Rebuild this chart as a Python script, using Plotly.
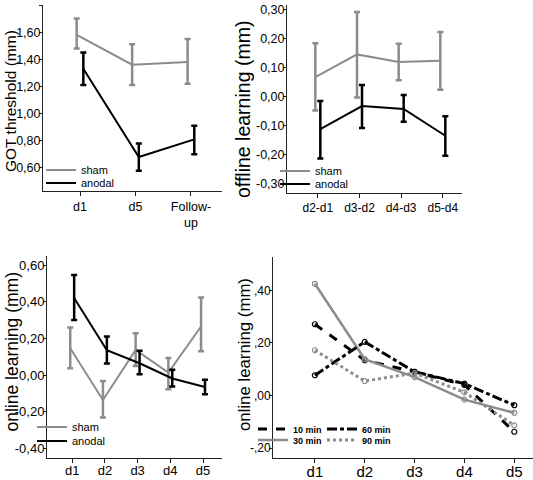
import plotly.graph_objects as go

FONT = "Arial, Liberation Sans, sans-serif"
GRAY = "#8c8c8c"
BLACK = "#000000"

# ---------------- data ----------------
got_days = ["d1", "d5", "Follow-<br>up"]
got_sham = [1.58, 1.36, 1.38]
got_sham_hi = [1.70, 1.51, 1.55]
got_sham_lo = [1.48, 1.21, 1.22]
got_anodal = [1.33, 0.68, 0.81]
got_anodal_hi = [1.45, 0.78, 0.91]
got_anodal_lo = [1.21, 0.58, 0.70]
got_ticks = [0.6, 0.8, 1.0, 1.2, 1.4, 1.6, 1.8]
got_ticktext = ["0,60", "0,80", "1,00", "1,20", "1,40", "1,60", "1,80"]

off_days = ["d2-d1", "d3-d2", "d4-d3", "d5-d4"]
off_sham = [0.068, 0.146, 0.120, 0.124]
off_sham_hi = [0.184, 0.292, 0.183, 0.223]
off_sham_lo = [-0.047, -0.002, 0.057, 0.024]
off_anodal = [-0.111, -0.032, -0.042, -0.134]
off_anodal_hi = [-0.014, 0.041, 0.006, -0.067]
off_anodal_lo = [-0.212, -0.107, -0.086, -0.203]
off_ticks = [-0.3, -0.2, -0.1, 0.0, 0.1, 0.2, 0.3]
off_ticktext = ["-0,30", "-0,20", "-0,10", "0,00", "0,10", "0,20", "0,30"]

on_days = ["d1", "d2", "d3", "d4", "d5"]
on_sham = [0.147, -0.135, 0.138, 0.014, 0.265]
on_sham_hi = [0.260, -0.032, 0.229, 0.093, 0.423]
on_sham_lo = [0.038, -0.230, 0.050, -0.077, 0.130]
on_anodal = [0.420, 0.136, 0.065, -0.018, -0.064]
on_anodal_hi = [0.546, 0.210, 0.133, 0.029, -0.025]
on_anodal_lo = [0.300, 0.064, 0.005, -0.062, -0.104]
on_ticks = [-0.4, -0.2, 0.0, 0.2, 0.4, 0.6]
on_ticktext = ["-0,40", "-0,20", "0,00", "0,20", "0,40", "0,60"]

dur_days = ["d1", "d2", "d3", "d4", "d5"]
dur_10 = [0.271, 0.134, 0.090, 0.040, -0.138]
dur_30 = [0.425, 0.138, 0.070, -0.016, -0.066]
dur_60 = [0.077, 0.204, 0.090, 0.045, -0.037]
dur_90 = [0.172, 0.055, 0.085, 0.012, -0.114]
dur_ticks = [-0.2, 0.0, 0.2, 0.4]
dur_ticktext = ["-,20", ",00", ",20", ",40"]

W, H = 533, 480
fig = go.Figure()
legends = {}

DODGE = 0.06


def leg(x_text, y_mid, size=11, bold=False):
    """One legend per entry; x_text = where the label text should start (px)."""
    key = "legend" if not legends else "legend%d" % (len(legends) + 1)
    legends[key] = dict(x=(x_text - 40) / W, y=1 - y_mid / H, xanchor="left", yanchor="middle",
                        bgcolor="rgba(0,0,0,0)", borderwidth=0,
                        font=dict(family=FONT, size=size, color="black",
                                  weight="bold" if bold else "normal"),
                        itemwidth=30, tracegroupgap=0)
    return key


def group_traces(cats, mean, hi, lo, name, color, xa, ya, legend, shift):
    xs = [i + shift for i in range(len(cats))]
    fig.add_trace(go.Scatter(
        x=xs, y=mean, mode="lines", name=name,
        line=dict(color=color, width=2),
        error_y=dict(type="data", symmetric=False,
                     array=[h - m for h, m in zip(hi, mean)],
                     arrayminus=[m - l for m, l in zip(mean, lo)],
                     color=color, thickness=2.5, width=3),
        xaxis=xa, yaxis=ya, legend=legend,
    ))


group_traces(got_days, got_sham, got_sham_hi, got_sham_lo, "sham", GRAY, "x", "y", leg(81, 170), -DODGE)
group_traces(got_days, got_anodal, got_anodal_hi, got_anodal_lo, "anodal", BLACK, "x", "y", leg(81, 183), DODGE)
group_traces(off_days, off_sham, off_sham_hi, off_sham_lo, "sham", GRAY, "x2", "y2", leg(315, 171), -DODGE)
group_traces(off_days, off_anodal, off_anodal_hi, off_anodal_lo, "anodal", BLACK, "x2", "y2", leg(315, 184), DODGE)
group_traces(on_days, on_sham, on_sham_hi, on_sham_lo, "sham", GRAY, "x3", "y3", leg(72, 427), -DODGE)
group_traces(on_days, on_anodal, on_anodal_hi, on_anodal_lo, "anodal", BLACK, "x3", "y3", leg(72, 441), DODGE)


def dur_trace(vals, name, color, dash, width, legend):
    xs = list(range(len(dur_days)))
    fig.add_trace(go.Scatter(
        x=xs, y=vals, mode="lines", name=name,
        line=dict(color=color, width=width, dash=dash),
        xaxis="x4", yaxis="y4", legend=legend,
    ))
    fig.add_trace(go.Scatter(
        x=xs, y=vals, mode="markers", name=name, showlegend=False,
        marker=dict(symbol="circle-open", size=5, color=color, line=dict(width=1.2)),
        xaxis="x4", yaxis="y4",
    ))


dur_trace(dur_10, "10 min", BLACK, "dash", 3, leg(293, 429, 9, True))
dur_trace(dur_30, "30 min", GRAY, "solid", 2.5, leg(293, 440, 9, True))
dur_trace(dur_60, "60 min", BLACK, "10px,3px,4px,3px", 3, leg(362, 429, 9, True))
dur_trace(dur_90, "90 min", GRAY, "dot", 3, leg(362, 440, 9, True))


def px_x(a, b):
    return [a / W, b / W]


def px_y(top, bottom):
    return [1 - bottom / H, 1 - top / H]


def xax(domain, cats, rng, size, anchor, standoff=0):
    return dict(domain=domain, range=rng, tickvals=list(range(len(cats))), ticktext=cats,
                showline=True, linecolor="#222", linewidth=1, ticks="outside", ticklen=4,
                tickcolor="#222", showgrid=False, zeroline=False, anchor=anchor, automargin=False,
                ticklabelstandoff=standoff,
                tickfont=dict(family=FONT, size=size, color="black"))


def yax(domain, rng, vals, text, size, anchor, standoff=-4):
    return dict(domain=domain, range=rng, tickvals=vals, ticktext=text,
                showline=True, linecolor="#222", linewidth=1, ticks="outside", ticklen=3,
                tickcolor="#222", showgrid=False, zeroline=False, anchor=anchor, automargin=False,
                ticklabelstandoff=standoff,
                tickfont=dict(family=FONT, size=size, color="black"))


def ytitle(text, x, y, size):
    return dict(text=text, x=x / W, y=1 - y / H, xref="paper", yref="paper",
                xanchor="center", yanchor="middle", textangle=-90, showarrow=False,
                font=dict(family=FONT, size=size, color="black"))


layout = dict(
    width=W, height=H, margin=dict(l=0, r=0, t=0, b=0, autoexpand=False),
    paper_bgcolor="white", plot_bgcolor="white",
    font=dict(family=FONT, color="black"),
    xaxis=xax(px_x(43, 222), got_days, [-0.667, 2.56], 12.5, "y"),
    yaxis=yax(px_y(5, 191), [0.43, 1.80], got_ticks, got_ticktext, 12.5, "x"),
    xaxis2=xax(px_x(287, 462), off_days, [-0.74, 3.46], 12, "y2"),
    yaxis2=yax(px_y(5, 193), [-0.331, 0.316], off_ticks, off_ticktext, 12.5, "x2"),
    xaxis3=xax(px_x(47, 222), on_days, [-0.77, 4.58], 13, "y3", -4),
    yaxis3=yax(px_y(256, 458), [-0.451, 0.649], on_ticks, on_ticktext, 13, "x3"),
    xaxis4=xax(px_x(273, 533), dur_days, [-0.84, 4.375], 15, "y4", -4),
    yaxis4=yax(px_y(257, 458), [-0.238, 0.527], dur_ticks, dur_ticktext, 12, "x4"),
    annotations=[
        ytitle("GOT threshold (mm)", 10, 101, 15.5),
        ytitle("offline learning (mm)", 243, 110, 19.5),
        ytitle("online learning (mm)", 11.5, 352, 17.5),
        ytitle("online learning (mm)", 244, 355, 16.8),
    ],
    showlegend=True,
)
layout.update(legends)
fig.update_layout(**layout)

fig.write_html("out.html", config={"displayModeBar": False},
               post_script="document.body.style.margin='0';")
